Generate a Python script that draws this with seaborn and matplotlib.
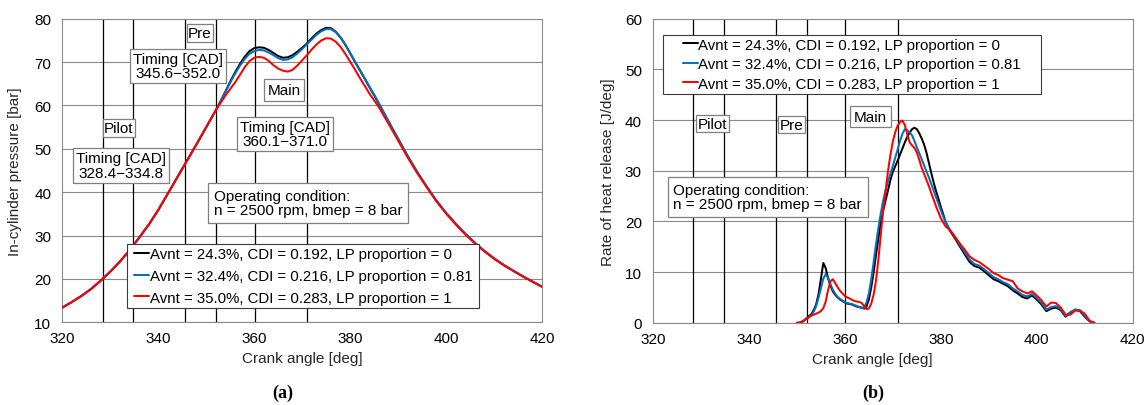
import matplotlib
matplotlib.use("Agg")
import matplotlib.pyplot as plt
from matplotlib.patches import Rectangle
import seaborn as sns

# ---------------------------------------------------------------- data
series_labels = [
    "Avnt = 24.3%, CDI = 0.192, LP proportion = 0",
    "Avnt = 32.4%, CDI = 0.216, LP proportion = 0.81",
    "Avnt = 35.0%, CDI = 0.283, LP proportion = 1",
]
series_colors = ["#000000", "#0070C0", "#FF0000"]

# injection timings [CAD]: pilot, pre, main (start / end)
injection_timings = [328.4, 334.8, 345.6, 352.0, 360.1, 371.0]

x_ticks = [320, 340, 360, 380, 400, 420]
p_ticks = [10, 20, 30, 40, 50, 60, 70, 80]
hrr_ticks = [0, 10, 20, 30, 40, 50, 60]

# in-cylinder pressure [bar]
ca_pressure = [320, 322, 324, 326, 328, 330, 332, 334, 336, 338, 340, 342, 344,
               346, 348, 350, 352,
               353, 354, 355, 356, 357, 358, 359, 360, 361, 362, 363, 364, 365,
               366, 367, 368, 369, 370, 371, 372, 373, 374, 375, 376, 377, 378,
               379, 380, 381, 382, 383, 384, 385, 386,
               388, 390, 392, 394, 396, 398, 400, 402, 404, 406, 408, 410, 412,
               414, 416, 418, 420]
p_compression = [13.4, 14.7, 16.1, 17.7, 19.6, 21.7, 24.0, 26.6, 29.5, 32.5,
                 35.9, 39.7, 43.5, 47.3, 51.1, 55.0, 58.9]
p_case1 = p_compression + [
    61.0, 63.2, 65.5, 67.6, 69.5, 71.2, 72.5, 73.2, 73.4, 73.3, 72.8, 72.1, 71.4,
    71.0, 71.1, 71.6, 72.4, 73.3, 74.3, 75.5, 76.6, 77.4, 77.9, 77.8, 77.0, 75.7,
    74.0, 72.1, 70.1, 68.2, 66.3, 64.3, 62.4, 60.4,
    56.3, 52.3, 48.3, 44.6, 41.2, 38.0, 35.2, 32.7, 30.4, 28.3, 26.4, 24.7, 23.2,
    21.9, 20.6, 19.4, 18.2]
p_case2 = p_compression + [
    61.0, 63.1, 65.3, 67.3, 69.1, 70.7, 71.9, 72.5, 72.8, 72.7, 72.2, 71.6, 70.9,
    70.5, 70.6, 71.1, 72.0, 73.0, 74.1, 75.2, 76.3, 77.1, 77.6, 77.6, 76.9, 75.7,
    74.0, 72.1, 70.1, 68.2, 66.3, 64.4, 62.5, 60.5,
    56.4, 52.4, 48.4, 44.7, 41.3, 38.1, 35.3, 32.8, 30.5, 28.4, 26.5, 24.8, 23.3,
    21.9, 20.6, 19.4, 18.2]
p_case3 = p_compression + [
    60.6, 62.3, 63.8, 65.3, 67.0, 68.8, 70.2, 71.0, 71.2, 71.0, 70.3, 69.3, 68.5,
    68.0, 67.8, 68.2, 69.2, 70.4, 71.6, 72.9, 74.1, 75.0, 75.5, 75.4, 74.7, 73.5,
    71.9, 70.1, 68.3, 66.4, 64.6, 62.8, 61.2, 59.6,
    55.8, 51.9, 48.0, 44.4, 41.1, 37.9, 35.1, 32.6, 30.3, 28.2, 26.4, 24.7, 23.2,
    21.9, 20.6, 19.4, 18.2]

# rate of heat release [J/deg]
ca_hrr = [350, 350.5, 351, 351.5, 352, 352.5, 353, 353.5, 354, 354.5,
          355, 355.5, 356, 356.5, 357, 357.5, 358, 358.5, 359, 359.5,
          360, 360.5, 361, 361.5, 362, 362.5, 363, 363.5, 364, 364.5,
          365, 365.5, 366, 366.5, 367, 367.5, 368, 368.5, 369, 369.5,
          370, 370.5, 371, 371.5, 372, 372.5, 373, 373.5, 374, 374.5,
          375, 375.5, 376, 376.5, 377, 377.5, 378, 378.5, 379, 379.5,
          380, 381, 382, 383, 384, 385, 386, 387, 388, 389, 390,
          391, 392, 393, 394, 395, 396, 397, 398, 399, 400,
          401, 402, 403, 404, 405, 406, 407, 408, 409, 410, 411, 412]
hrr_case1 = [0.0, 0.0, 0.2, 0.5, 0.9, 1.3, 1.7, 2.5, 3.6, 5.6,
             8.6, 11.8, 10.8, 8.8, 7.3, 6.2, 5.5, 5.0, 4.6, 4.3,
             4.0, 3.8, 3.7, 3.6, 3.4, 3.2, 3.1, 3.0, 2.8, 3.2,
             4.6, 7.0, 10.0, 13.5, 16.8, 19.9, 22.2, 24.2, 26.2, 28.2,
             29.8, 30.9, 32.0, 33.2, 34.4, 35.6, 36.7, 37.5, 38.2, 38.5,
             38.2, 37.4, 36.4, 35.2, 33.6, 31.6, 29.6, 27.7, 26.0, 24.5,
             22.9, 19.9, 18.0, 16.6, 15.0, 13.5, 12.0, 11.2, 10.9, 10.2, 9.4,
             8.6, 8.2, 7.7, 7.2, 6.4, 5.8, 5.1, 4.8, 5.4, 4.6,
             3.6, 2.3, 2.8, 3.0, 2.5, 1.2, 2.0, 2.6, 2.3, 1.2, 0.3, 0.0]
hrr_case2 = [0.0, 0.0, 0.2, 0.5, 0.8, 1.1, 1.5, 2.2, 3.3, 4.9,
             6.8, 8.7, 9.6, 8.9, 7.6, 6.5, 5.7, 5.1, 4.7, 4.4,
             4.1, 3.9, 3.8, 3.7, 3.5, 3.3, 3.1, 2.9, 3.0, 4.0,
             5.8, 8.6, 12.0, 15.6, 18.8, 21.7, 24.2, 26.2, 27.9, 29.4,
             31.0, 32.6, 34.2, 35.9, 37.3, 38.2, 38.0, 37.6, 37.0, 35.9,
             34.6, 33.5, 32.3, 31.1, 29.9, 28.7, 27.4, 26.1, 24.8, 23.5,
             22.2, 19.8, 18.2, 16.9, 15.3, 13.9, 12.5, 11.6, 11.3, 10.6, 9.8,
             9.0, 8.6, 8.0, 7.6, 6.8, 6.2, 5.5, 5.2, 5.7, 4.9,
             3.9, 2.6, 3.1, 3.3, 2.7, 1.4, 2.1, 2.6, 2.5, 1.4, 0.3, 0.0]
hrr_case3 = [0.0, 0.0, 0.1, 0.4, 0.8, 1.1, 1.4, 1.6, 1.8, 2.0,
             2.3, 2.9, 4.2, 6.5, 8.2, 8.6, 7.8, 7.0, 6.3, 5.8,
             5.3, 5.0, 4.8, 4.5, 4.3, 4.2, 4.1, 3.9, 3.3, 2.7,
             2.8, 3.8, 5.6, 8.4, 12.6, 17.6, 22.3, 26.1, 30.0, 33.2,
             35.8, 37.6, 38.9, 39.6, 39.9, 39.0, 37.2, 35.6, 35.0, 34.5,
             33.6, 32.2, 30.6, 29.4, 28.2, 27.0, 25.6, 24.3, 23.0, 21.8,
             20.6, 19.0, 18.2, 16.9, 15.6, 14.4, 13.1, 12.4, 12.0, 11.3, 10.6,
             9.8, 9.4, 8.8, 8.5, 8.2, 6.8, 6.2, 5.8, 6.2, 5.4,
             4.4, 3.2, 4.0, 3.9, 3.0, 1.6, 1.6, 2.4, 2.4, 1.8, 0.4, 0.0]

pressure_series = [p_case1, p_case2, p_case3]
hrr_series = [hrr_case1, hrr_case2, hrr_case3]

# ---------------------------------------------------------------- style
sns.set_theme(style="white")
plt.rcParams["font.family"] = ["Liberation Sans", "DejaVu Sans"]
plt.rcParams["font.size"] = 11
plt.rcParams["text.color"] = "black"

FS = 11
FS_LEG = 10.8
GRID = "#8a8a8a"
BOX_EDGE = "#7f7f7f"

W, H = 1148, 406
fig = plt.figure(figsize=(W / 100, H / 100), dpi=100, facecolor="white")
ax_p = fig.add_axes([62.4 / W, 1 - 323.3 / H, 479.5 / W, 303.6 / H])
ax_h = fig.add_axes([653.0 / W, 1 - 323.8 / H, 479.7 / W, 304.1 / H])


def style_axes(ax, yticks, ylabel, xlabel_x):
    ax.set_xlim(x_ticks[0], x_ticks[-1])
    ax.set_ylim(yticks[0], yticks[-1])
    ax.set_xticks(x_ticks)
    ax.set_yticks(yticks)
    ax.tick_params(axis="both", length=0, labelsize=FS, colors="black")
    ax.tick_params(axis="y", pad=8.0)
    ax.tick_params(axis="x", pad=6.5)
    ax.set_axisbelow(True)
    ax.yaxis.grid(True, color=GRID, lw=0.8)
    ax.xaxis.grid(False)
    for sp in ax.spines.values():
        sp.set_color(GRID)
        sp.set_linewidth(0.8)
    ax.set_xlabel("Crank angle [deg]", fontsize=FS)
    ax.set_ylabel(ylabel, fontsize=FS)
    ax.xaxis.set_label_coords(xlabel_x, -0.096)
    for t in injection_timings:
        ax.axvline(t, color="black", lw=0.9, zorder=1.6)


def boxed(ax, x, y, text, pad, ha="center"):
    ax.text(x, y, text, ha=ha, va="center", fontsize=FS, linespacing=1.05,
            zorder=5,
            bbox=dict(boxstyle=f"square,pad={pad}", fc="white",
                      ec=BOX_EDGE, lw=0.9))


def framed_legend(ax, anchor, spacing, padx, pady):
    leg = ax.legend(loc="upper left", bbox_to_anchor=anchor, frameon=False,
                    handlelength=1.0, handletextpad=0.05,
                    labelspacing=spacing, borderpad=0.0, borderaxespad=0.0,
                    fontsize=FS_LEG)
    leg.set_zorder(7)
    fig.canvas.draw()
    bb = leg.get_window_extent()
    inv = ax.transAxes.inverted()
    (x0, y0), (x1, y1) = inv.transform([(bb.x0 - padx, bb.y0 - pady),
                                        (bb.x1 + padx, bb.y1 + pady)])
    ax.add_patch(Rectangle((x0, y0), x1 - x0, y1 - y0,
                           transform=ax.transAxes, fc="white", ec="#3a3a3a",
                           lw=0.8, zorder=6, clip_on=False))


# ---------------------------------------------------------------- (a) pressure
for vals, col, lab in zip(pressure_series, series_colors, series_labels):
    sns.lineplot(x=ca_pressure, y=vals, ax=ax_p, color=col, lw=1.45,
                 label=lab, zorder=3)
style_axes(ax_p, p_ticks, "In-cylinder pressure [bar]", 0.5)
ax_p.yaxis.set_label_coords(-0.084, 0.5)

boxed(ax_p, 331.8, 54.8, "Pilot", 0.1)
boxed(ax_p, 332.2, 46.2, "Timing [CAD]\n328.4\u2212334.8", 0.2)
boxed(ax_p, 348.7, 76.7, "Pre", 0.1)
boxed(ax_p, 344.2, 69.1, "Timing [CAD]\n345.6\u2212352.0", 0.2)
boxed(ax_p, 366.2, 63.5, "Main", 0.25)
boxed(ax_p, 366.5, 53.4, "Timing [CAD]\n360.1\u2212371.0", 0.2)
boxed(ax_p, 351.6, 37.5,
      "Operating condition:\nn = 2500 rpm, bmep = 8 bar", 0.36, ha="left")

framed_legend(ax_p, (0.149, 0.248), 0.52, 7, 3)

# ---------------------------------------------------------------- (b) heat release
for vals, col, lab in zip(hrr_series, series_colors, series_labels):
    sns.lineplot(x=ca_hrr, y=vals, ax=ax_h, color=col, lw=1.45,
                 label=lab, zorder=3)
style_axes(ax_h, hrr_ticks, "Rate of heat release [J/deg]", 0.4576)
ax_h.yaxis.set_label_coords(-0.080, 0.5)

boxed(ax_h, 332.35, 39.3, "Pilot", 0.1)
boxed(ax_h, 348.85, 39.1, "Pre", 0.1)
boxed(ax_h, 365.3, 40.7, "Main", 0.25)
boxed(ax_h, 324.25, 24.8,
      "Operating condition:\nn = 2500 rpm, bmep = 8 bar", 0.36, ha="left")

framed_legend(ax_h, (0.0615, 0.938), 0.37, 20, 3)

# ---------------------------------------------------------------- panel tags
for xpix, tag in [(283, "(a)"), (873.5, "(b)")]:
    fig.text(xpix / W, 1 - 393 / H, tag, ha="center", va="center",
             fontsize=13, family=["Liberation Serif", "DejaVu Serif"],
             weight="bold")

fig.savefig("out.png", dpi=100, facecolor="white")
